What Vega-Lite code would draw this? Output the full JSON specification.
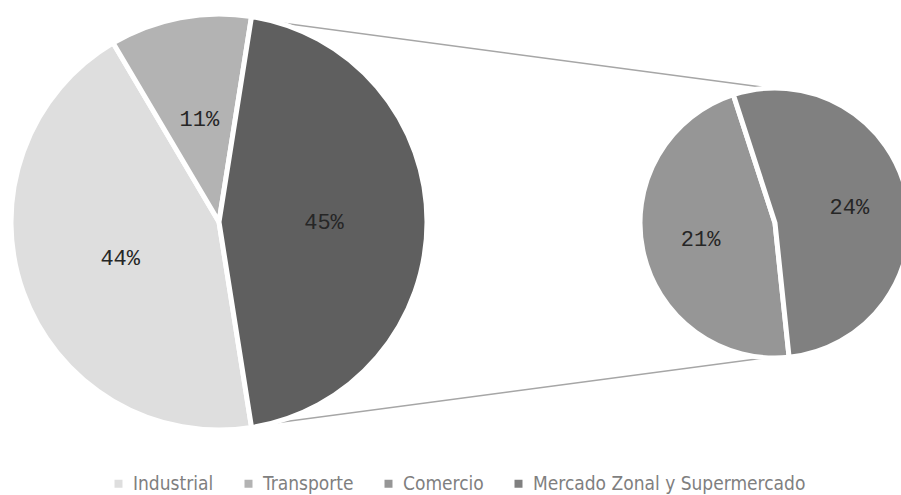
{
  "$schema": "https://vega.github.io/schema/vega-lite/v6.json",
  "width": 901,
  "height": 495,
  "autosize": {"type": "fit", "contains": "padding"},
  "padding": 0,
  "background": "white",
  "config": {"view": {"stroke": null}},
  "datasets": {
    "principal": [
      {"categoria": "Industrial", "valor": 44, "grafico": "principal"},
      {"categoria": "Transporte", "valor": 11, "grafico": "principal"},
      {"categoria": "Otros", "valor": 45, "grafico": "principal"}
    ],
    "secundario": [
      {"categoria": "Comercio", "valor": 21, "grafico": "secundario"},
      {"categoria": "Mercado Zonal y Supermercado", "valor": 24, "grafico": "secundario"}
    ],
    "conectores": [
      {"xa": 250, "ya": 18, "xb": 778, "yb": 87},
      {"xa": 250, "ya": 427, "xb": 788, "yb": 357}
    ]
  },
  "layer": [
    {
      "data": {"name": "conectores"},
      "mark": {"type": "rule", "color": "#a6a6a6", "strokeWidth": 1.5},
      "encoding": {
        "x": {"field": "xa", "type": "quantitative", "scale": {"domain": [0, 901], "nice": false, "zero": false}, "axis": null},
        "x2": {"field": "xb"},
        "y": {"field": "ya", "type": "quantitative", "scale": {"domain": [0, 495], "reverse": true, "nice": false, "zero": false}, "axis": null},
        "y2": {"field": "yb"}
      }
    },
    {
      "data": {"name": "principal"},
      "transform": [
        {"window": [{"op": "row_number", "as": "orden"}]},
        {"calculate": "datum.valor + '%'", "as": "etiqueta"}
      ],
      "encoding": {
        "theta": {"field": "valor", "type": "quantitative", "stack": true, "scale": {"range": [2.9845, 9.2677]}},
        "order": {"field": "orden", "type": "quantitative"},
        "x": {"field": "grafico", "type": "nominal", "scale": {"type": "point", "domain": ["principal", "secundario"], "range": [219, 775], "padding": 0}, "axis": null},
        "y": {"field": "grafico", "type": "nominal", "scale": {"type": "point", "domain": ["principal", "secundario"], "range": [222, 223], "padding": 0}, "axis": null}
      },
      "layer": [
        {
          "mark": {"type": "arc", "outerRadius": 208, "stroke": "white", "strokeWidth": 5},
          "encoding": {
            "color": {
              "field": "categoria",
              "type": "nominal",
              "scale": {
                "domain": ["Industrial", "Transporte", "Comercio", "Mercado Zonal y Supermercado", "Otros"],
                "range": ["#dedede", "#b3b3b3", "#969696", "#808080", "#5f5f5f"]
              },
              "legend": {
                "values": ["Industrial", "Transporte", "Comercio", "Mercado Zonal y Supermercado"],
                "title": null,
                "orient": "none",
                "legendX": 109,
                "legendY": 474,
                "padding": 0,
                "direction": "horizontal",
                "symbolType": "square",
                "symbolSize": 64,
                "symbolStrokeWidth": 0,
                "labelFont": "DejaVu Sans Condensed",
                "labelFontSize": 19,
                "labelColor": "#7f7f7f",
                "labelLimit": 500,
                "labelOffset": 5,
                "columnPadding": 25
              }
            }
          }
        },
        {
          "mark": {"type": "text", "radius": 105, "font": "Liberation Mono", "fontSize": 22, "color": "#262626"},
          "encoding": {"text": {"field": "etiqueta", "type": "nominal"}}
        }
      ]
    },
    {
      "data": {"name": "secundario"},
      "transform": [
        {"window": [{"op": "row_number", "as": "orden"}]},
        {"calculate": "datum.valor + '%'", "as": "etiqueta"}
      ],
      "encoding": {
        "theta": {"field": "valor", "type": "quantitative", "stack": true, "scale": {"range": [3.0369, 9.3201]}},
        "order": {"field": "orden", "type": "quantitative"},
        "x": {"field": "grafico", "type": "nominal", "scale": {"type": "point", "domain": ["principal", "secundario"], "range": [219, 775], "padding": 0}, "axis": null},
        "y": {"field": "grafico", "type": "nominal", "scale": {"type": "point", "domain": ["principal", "secundario"], "range": [222, 223], "padding": 0}, "axis": null}
      },
      "layer": [
        {
          "mark": {"type": "arc", "outerRadius": 135, "stroke": "white", "strokeWidth": 5},
          "encoding": {"color": {"field": "categoria", "type": "nominal"}}
        },
        {
          "mark": {"type": "text", "radius": 76, "font": "Liberation Mono", "fontSize": 22, "color": "#262626"},
          "encoding": {"text": {"field": "etiqueta", "type": "nominal"}}
        }
      ]
    }
  ],
  "resolve": {"scale": {"theta": "independent", "x": "independent", "y": "independent"}}
}
